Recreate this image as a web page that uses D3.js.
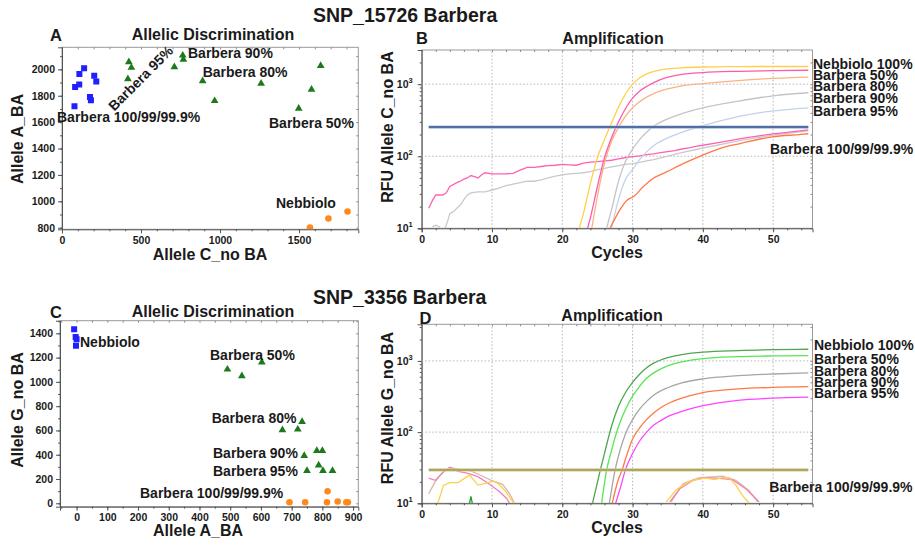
<!DOCTYPE html>
<html>
<head>
<meta charset="utf-8">
<script src="https://cdn.jsdelivr.net/npm/d3@7"></script>
<style>
  body { margin: 0; background: #fff; }
  svg { display: block; }
  text { font-family: "Liberation Sans", Arial, sans-serif; font-weight: bold; fill: #1a1a1a; }
</style>
</head>
<body>
<svg id="chart" width="915" height="546"></svg>
<script>
// ---------- SNP_15726: allelic discrimination (x = Allele C_no BA, y = Allele A_BA) ----------
const a_barbera100 = [[79,1721],[83,1866],[109,1885],[110,1965],[140,2008],[177,1791],[183,1766],[204,1952],[217,1907]];
const a_barberaMix = [[423,2055],[439,2013],[417,1927],[711,2017],[764,2106],[768,2075],[890,1912],[966,1761],[1260,1892],[1498,1703],[1579,1847],[1637,2028]];
const a_nebbiolo   = [[1569,802],[1686,870],[1807,923]];

// ---------- SNP_15726: amplification, allele C_no BA (cycle, RFU) ----------
const b_nebbiolo100 = [[22.4,10],[23,16],[24,42],[25,95],[26,170],[27,290],[28,480],[29,730],[30,1000],[31,1220],[32,1390],[33,1500],[34,1580],[35,1630],[37,1690],[40,1730],[45,1750],[50,1760],[55,1760]];
const b_barbera50  = [[23.6,10],[24,14],[25,38],[26,95],[27,180],[28,300],[29,460],[30,640],[31,800],[32,930],[33,1050],[35,1250],[37,1370],[40,1450],[45,1510],[50,1540],[55,1560]];
const b_barbera80  = [[24.2,10],[25,28],[26,80],[27,160],[28,250],[29,360],[30,470],[31,570],[32,660],[33,740],[35,860],[37,950],[40,1020],[45,1120],[50,1200],[55,1250]];
const b_barbera90  = [[26.3,10],[27,18],[28,45],[29,85],[30,125],[31,170],[32,215],[33,260],[35,330],[37,390],[40,470],[45,580],[50,690],[55,760]];
const b_barbera95  = [[27.0,10],[28,25],[29,48],[30,65],[31,90],[32,115],[33,140],[35,180],[37,215],[40,265],[45,355],[50,425],[55,470]];
const b_barbera100 = [[26.8,10],[28.2,18],[29.2,24.5],[30.1,27.4],[31.5,37.6],[32.9,49],[34.9,61],[37.2,79],[39.9,103],[42.4,128],[45.3,150],[49.9,186],[53.8,200],[55,205]];
const b_bgPink = [[1,19],[1.5,24],[2,29],[3,29],[3.5,31],[4,38],[5,43],[5.5,45],[6,48],[6.5,50],[7,54],[7.5,52],[8,50],[8.5,55],[9,59],[10,57],[11,57],[12,57],[13,58],[14,64],[15,70],[16,70],[17,72],[18,74],[19,75],[20,77],[21,76],[22,75],[23,80],[24,83],[25,84],[26,86],[27,88],[28,92],[29,96],[30,99],[31,101],[32,105],[33,108],[34,112],[35,116],[36,120],[37,126],[38,131],[39,137],[40,142],[42,153],[44,166],[46,180],[48,192],[50,204],[52,214],[55,232]];
const b_bgGray = [[1.5,10.5],[2,11],[2.5,10.5],[3,9],[3.5,11],[4,16],[4.5,17],[5,19],[5.5,21],[6,25],[6.5,29],[7,31],[8,32],[9,32],[10,34],[11,36],[12,39],[13,41],[14,43],[15,45],[16,45],[17,47],[18,50],[19,53],[20,55],[21,57],[22,58],[23,59],[24,61],[25,65],[26,68],[27,71],[28,74],[29,77],[30,79],[31,82],[32,86],[33,90],[34,95],[35,100],[36,106],[37,112],[38,118],[39,124],[40,130],[42,142],[44,156],[46,170],[48,183],[50,196],[52,207],[55,225]];
const b_threshold = 254;

// ---------- SNP_3356: allelic discrimination (x = Allele A_BA, y = Allele G_no BA) ----------
const c_nebbiolo   = [[-8,1433],[-3,1370],[0,1352],[-2,1298]];
const c_barberaMix = [[491,1103],[538,1048],[603,1162],[670,604],[720,609],[734,672],[741,392],[782,433],[800,433],[750,269],[788,313],[802,269],[833,269]];
const c_barbera100 = [[693,8],[744,8],[817,99],[815,8],[850,15],[878,8],[883,8]];

// ---------- SNP_3356: amplification, allele G_no BA (cycle, RFU) ----------
const d_nebbiolo100 = [[24.3,10],[25.4,29],[26,50],[27,120],[28,230],[29,360],[30,500],[31,650],[32,800],[33,930],[34,1030],[35,1110],[37,1230],[40,1330],[45,1400],[50,1440],[55,1460]];
const d_barbera50  = [[25.6,10],[26.3,29],[27,55],[28,120],[29,210],[30,320],[31,440],[32,570],[33,680],[34,770],[35,850],[37,970],[40,1080],[45,1150],[50,1175],[55,1185]];
const d_barbera80  = [[26.7,10],[27.5,29],[28.2,55],[29,95],[30,150],[31,210],[32,270],[33,330],[34,380],[35,420],[37,490],[40,560],[45,620],[50,655],[55,680]];
const d_barbera90  = [[27.1,10],[28,22],[28.5,29],[29,42],[30,80],[31,115],[32,150],[33,185],[34,220],[35,250],[37,300],[40,360],[45,405],[50,425],[55,435]];
const d_barbera95  = [[27.6,10],[28.3,17],[29,30],[30,50],[31,75],[32,100],[33,125],[34,145],[35,165],[37,195],[40,235],[45,280],[50,300],[55,310]];
const d_noisePink  = [[1,22.5],[1.9,21],[3,27],[4,32],[5.2,28],[6.6,26.4],[8,23.7],[9.5,19],[10.9,15],[12.1,11.7],[12.5,10]];
const d_noiseTan   = [[1,13.7],[1.9,20],[3.1,28],[4,32],[5.4,30],[6.8,29],[8.3,25],[9.9,21],[11.5,18.5],[12.5,13.7],[13.2,10]];
const d_noiseYellow = [[2.3,10],[3.1,18],[4,19.5],[5.2,19.5],[6.8,25],[8,18],[9.5,19.5],[10.2,20.5],[11,18.5],[12,14.5],[13.1,10]];
const d_noiseGreen = [[6.8,10],[7,12.5],[7.2,10]];
const d_lateYellow = [[34.8,10.5],[36.2,15.5],[37.6,19],[39,21.5],[40.4,22.8],[41.6,21.5],[42.8,23],[43.7,23],[44.7,18],[45.6,13],[46.6,10]];
const d_latePink   = [[35.3,10.5],[36.7,16],[38.6,21],[40.4,23],[42.3,22.4],[44.2,21.5],[46.1,16],[48,10.5]];
const d_lateTan    = [[35.5,10.5],[37.2,19],[39.5,23],[41.4,23.5],[42.8,24],[44.7,21],[46.6,15],[47.8,10.5]];
const d_threshold = 29.4;

// ---------- shared labels ----------
const legendNames = ["Nebbiolo 100%", "Barbera 50%", "Barbera 80%", "Barbera 90%", "Barbera 95%"];
const cycleTicks = [0, 10, 20, 30, 40, 50];
const logTicks = [10, 100, 1000];

const svg = d3.select("#chart");
svg.append("rect").attr("width", 915).attr("height", 546).attr("fill", "#fff");

function label(x, y, str, size, anchor = "start", rotate = 0) {
  const t = svg.append("text")
    .attr("transform", `translate(${x},${y}) rotate(${rotate})`)
    .attr("text-anchor", anchor)
    .attr("dy", "0.35em")
    .style("font-size", size + "px")
    .text(str);
  return t;
}

// Boxed plot frame: darker left/bottom axes, light top/right border
function frame(x, y, xMajor, xMinor, yMajor, yMinor, yFmt) {
  const [x0, x1] = x.range(), [y0, y1] = y.range();
  const g = svg.append("g");
  // top and right border with small inward ticks
  g.append("rect").attr("x", x0).attr("y", y1).attr("width", x1 - x0).attr("height", y0 - y1)
    .attr("fill", "none").attr("stroke", "#9a9a9a").attr("stroke-width", 1);
  g.append("g").attr("transform", `translate(0,${y1})`)
    .call(d3.axisBottom(x).tickValues(xMinor).tickSize(2).tickFormat(""))
    .call(s => { s.select(".domain").remove(); s.selectAll("line").attr("stroke", "#8a8a8a"); });
  g.append("g").attr("transform", `translate(${x1},0)`)
    .call(d3.axisLeft(y).tickValues(yMinor).tickSize(2).tickFormat(""))
    .call(s => { s.select(".domain").remove(); s.selectAll("line").attr("stroke", "#8a8a8a"); });
  // left axis
  g.append("g").attr("transform", `translate(${x0},0)`)
    .call(d3.axisLeft(y).tickValues(yMinor).tickSize(2).tickFormat(""))
    .call(s => { s.select(".domain").remove(); s.selectAll("line").attr("stroke", "#555"); });
  const ly = g.append("g").attr("transform", `translate(${x0},0)`)
    .call(d3.axisLeft(y).tickValues(yMajor).tickSize(4).tickPadding(3).tickFormat(yFmt || d3.format("d")));
  ly.select(".domain").attr("stroke", "#555");
  ly.selectAll("line").attr("stroke", "#555");
  ly.selectAll("text").style("font-size", "10.5px").style("font-family", '"Liberation Sans", Arial, sans-serif').style("font-weight", "bold").attr("fill", "#1a1a1a");
  // bottom axis
  g.append("g").attr("transform", `translate(0,${y0})`)
    .call(d3.axisBottom(x).tickValues(xMinor).tickSize(2).tickFormat(""))
    .call(s => { s.select(".domain").remove(); s.selectAll("line").attr("stroke", "#555"); });
  const lx = g.append("g").attr("transform", `translate(0,${y0})`)
    .call(d3.axisBottom(x).tickValues(xMajor).tickSize(4).tickPadding(3).tickFormat(d3.format("d")));
  lx.select(".domain").attr("stroke", "#555");
  lx.selectAll("line").attr("stroke", "#555");
  lx.selectAll("text").style("font-size", "10.5px").style("font-family", '"Liberation Sans", Arial, sans-serif').style("font-weight", "bold").attr("fill", "#1a1a1a");
  return { g, ly };
}

function clipFor(id, x, y) {
  const [x0, x1] = x.range(), [y0, y1] = y.range();
  svg.append("clipPath").attr("id", id).append("rect")
    .attr("x", x0).attr("y", y1).attr("width", x1 - x0).attr("height", y0 - y1);
  return svg.append("g").attr("clip-path", `url(#${id})`);
}

// ---------- scatter panels ----------
function scatter(x, y, groups, clipId) {
  const g = clipFor(clipId, x, y);
  groups.forEach(gr => {
    const sym = d3.symbol().type(gr.shape).size(gr.size);
    g.selectAll(null).data(gr.data).join("path")
      .attr("d", sym)
      .attr("transform", d => `translate(${x(d[0])},${y(d[1])})`)
      .attr("fill", gr.color);
  });
}

// Panel A
const xA = d3.scaleLinear().domain([0, 1875]).range([62, 358.3]);
const yA = d3.scaleLinear().domain([788, 2167]).range([229.3, 47.3]);
frame(xA, yA, [0, 500, 1000, 1500], d3.range(0, 1876, 100), d3.range(800, 2001, 200), d3.range(800, 2101, 100));
scatter(xA, yA, [
  { data: a_barbera100, shape: d3.symbolSquare, size: 36, color: "#1f1fff" },
  { data: a_barberaMix, shape: d3.symbolTriangle, size: 26, color: "#1c7a1c" },
  { data: a_nebbiolo, shape: d3.symbolCircle, size: 34, color: "#ff8a1c" }
], "clipA");

// Panel C
const xC = d3.scaleLinear().domain([-54, 917]).range([60, 358.3]);
const yC = d3.scaleLinear().domain([-28, 1504]).range([506.7, 320.7]);
frame(xC, yC, d3.range(0, 901, 100), d3.range(-50, 901, 50), d3.range(0, 1401, 200), d3.range(0, 1501, 100));
scatter(xC, yC, [
  { data: c_nebbiolo, shape: d3.symbolSquare, size: 36, color: "#1f1fff" },
  { data: c_barberaMix, shape: d3.symbolTriangle, size: 26, color: "#1c7a1c" },
  { data: c_barbera100, shape: d3.symbolCircle, size: 34, color: "#ff8a1c" }
], "clipC");

// ---------- amplification panels ----------
function logMinor(domain) {
  const out = [];
  for (let p = 1; p <= 3; p++) for (let m = 1; m <= 9; m++) {
    const v = m * Math.pow(10, p);
    if (v >= domain[0] && v <= domain[1]) out.push(v);
  }
  return out;
}

function amplification(x, y, series, thr, thrColors, clipId) {
  frame(x, y, cycleTicks, d3.range(0, 56, 2), logTicks, logMinor(y.domain()), () => "");
  // log tick labels as 10 with superscript exponent
  const [x0] = x.range();
  logTicks.forEach(v => {
    const t = svg.append("text").attr("x", x0 - 9).attr("y", y(v) + 4)
      .attr("text-anchor", "end").style("font-size", "10.5px");
    t.append("tspan").text("10");
    t.append("tspan").attr("dy", -5).style("font-size", "7.5px").text(String(Math.round(Math.log10(v))));
  });
  // dotted grid
  const gg = svg.append("g");
  cycleTicks.slice(1).forEach(c => gg.append("line")
    .attr("x1", x(c)).attr("x2", x(c)).attr("y1", y.range()[0]).attr("y2", y.range()[1])
    .attr("stroke", "#b5b5b5").attr("stroke-dasharray", "1.5,2"));
  [100, 1000].forEach(v => gg.append("line")
    .attr("x1", x.range()[0]).attr("x2", x.range()[1]).attr("y1", y(v)).attr("y2", y(v))
    .attr("stroke", "#b5b5b5").attr("stroke-dasharray", "1.5,2"));

  const g = clipFor(clipId, x, y);
  series.forEach(s => {
    const line = d3.line().x(d => x(d[0])).y(d => y(Math.max(d[1], 5)))
      .curve(s.smooth ? d3.curveMonotoneX : d3.curveLinear);
    g.append("path").datum(s.data).attr("d", line)
      .attr("fill", "none").attr("stroke", s.color).attr("stroke-width", s.width || 1.3);
  });
  // threshold line
  g.append("line").attr("x1", x(1)).attr("x2", x(55)).attr("y1", y(thr)).attr("y2", y(thr))
    .attr("stroke", thrColors[0]).attr("stroke-width", 3.2);
  g.append("line").attr("x1", x(1)).attr("x2", x(55)).attr("y1", y(thr)).attr("y2", y(thr))
    .attr("stroke", thrColors[1]).attr("stroke-width", 1.4);
}

// Panel B
const xB = d3.scaleLinear().domain([0, 55.6]).range([421.7, 812.5]);
const yB = d3.scaleLog().domain([10, 2980]).range([228.3, 50]);
amplification(xB, yB, [
  { data: b_bgGray, color: "#c9c9c9" },
  { data: b_bgPink, color: "#ff62b0" },
  { data: b_barbera95, color: "#c2d2ea", smooth: true },
  { data: b_barbera90, color: "#c4c4c4", smooth: true },
  { data: b_barbera100, color: "#ff7846", smooth: true },
  { data: b_barbera80, color: "#f8b485", smooth: true },
  { data: b_barbera50, color: "#ff5aab", smooth: true },
  { data: b_nebbiolo100, color: "#ffd04a", smooth: true }
], b_threshold, ["#a9bedf", "#34558f"], "clipB");

// Panel D
const xD = d3.scaleLinear().domain([0, 55.6]).range([421.7, 812.5]);
const yD = d3.scaleLog().domain([10, 3270]).range([503.3, 324.3]);
amplification(xD, yD, [
  { data: d_noiseTan, color: "#d9b9a6" },
  { data: d_noisePink, color: "#f57fb8" },
  { data: d_noiseYellow, color: "#ffd04a" },
  { data: d_noiseGreen, color: "#22a022" },
  { data: d_lateTan, color: "#d9b9a6" },
  { data: d_latePink, color: "#f57fb8" },
  { data: d_lateYellow, color: "#ffd04a" },
  { data: d_barbera95, color: "#ff45ff", smooth: true },
  { data: d_barbera90, color: "#ff7846", smooth: true },
  { data: d_barbera80, color: "#a6a6a6", smooth: true },
  { data: d_barbera50, color: "#55e655", smooth: true },
  { data: d_nebbiolo100, color: "#4fa64f", smooth: true }
], d_threshold, ["#d2cc96", "#a09850"], "clipD");

// ---------- titles and labels ----------
label(313, 15, "SNP_15726 Barbera", 19.5);
label(313, 297.5, "SNP_3356 Barbera", 19.5);

label(50, 35, "A", 16.5);
label(213, 34.5, "Allelic Discrimination", 16, "middle");
label(416, 38.3, "B", 16.5);
label(613, 38.3, "Amplification", 16, "middle");
label(50, 312.3, "C", 16.5);
label(213, 311.7, "Allelic Discrimination", 16, "middle");
label(419.5, 318.3, "D", 16.5);
label(612, 315, "Amplification", 16, "middle");

// axis titles
label(17, 139, "Allele A_BA", 16, "middle", -90);
label(210, 254, "Allele C_no BA", 16, "middle");
label(387.5, 127, "RFU Allele C_no BA", 16, "middle", -90);
label(617, 252, "Cycles", 16, "middle");
label(17, 410, "Allele G_no BA", 16, "middle", -90);
label(198, 530, "Allele A_BA", 16, "middle");
label(387.5, 408, "RFU Allele G_no BA", 16, "middle", -90);
label(617, 527, "Cycles", 16, "middle");

// panel A annotations
label(57, 117.5, "Barbera 100/99/99.9%", 14);
label(140.7, 78.3, "Barbera 95%", 14, "middle", -45);
label(188, 53.3, "Barbera 90%", 14);
label(202.7, 71.7, "Barbera 80%", 14);
label(269, 122.7, "Barbera 50%", 14);
label(276, 203, "Nebbiolo", 14);

// panel C annotations
label(80, 342.3, "Nebbiolo", 14);
label(210, 355, "Barbera 50%", 14);
label(211.7, 417.7, "Barbera 80%", 14);
label(213, 452.7, "Barbera 90%", 14);
label(213, 471, "Barbera 95%", 14);
label(140, 493.3, "Barbera 100/99/99.9%", 14);

// right-hand legends of the amplification panels
const legendYB = [64, 75, 86, 98, 110.7];
legendNames.forEach((n, i) => label(813, legendYB[i], n, 14));
label(770, 149.3, "Barbera 100/99/99.9%", 14);
const legendYD = [345, 359.3, 370.7, 381.7, 393.3];
legendNames.forEach((n, i) => label(814, legendYD[i], n, 14));
label(769.3, 486.7, "Barbera 100/99/99.9%", 14);
</script>
</body>
</html>
